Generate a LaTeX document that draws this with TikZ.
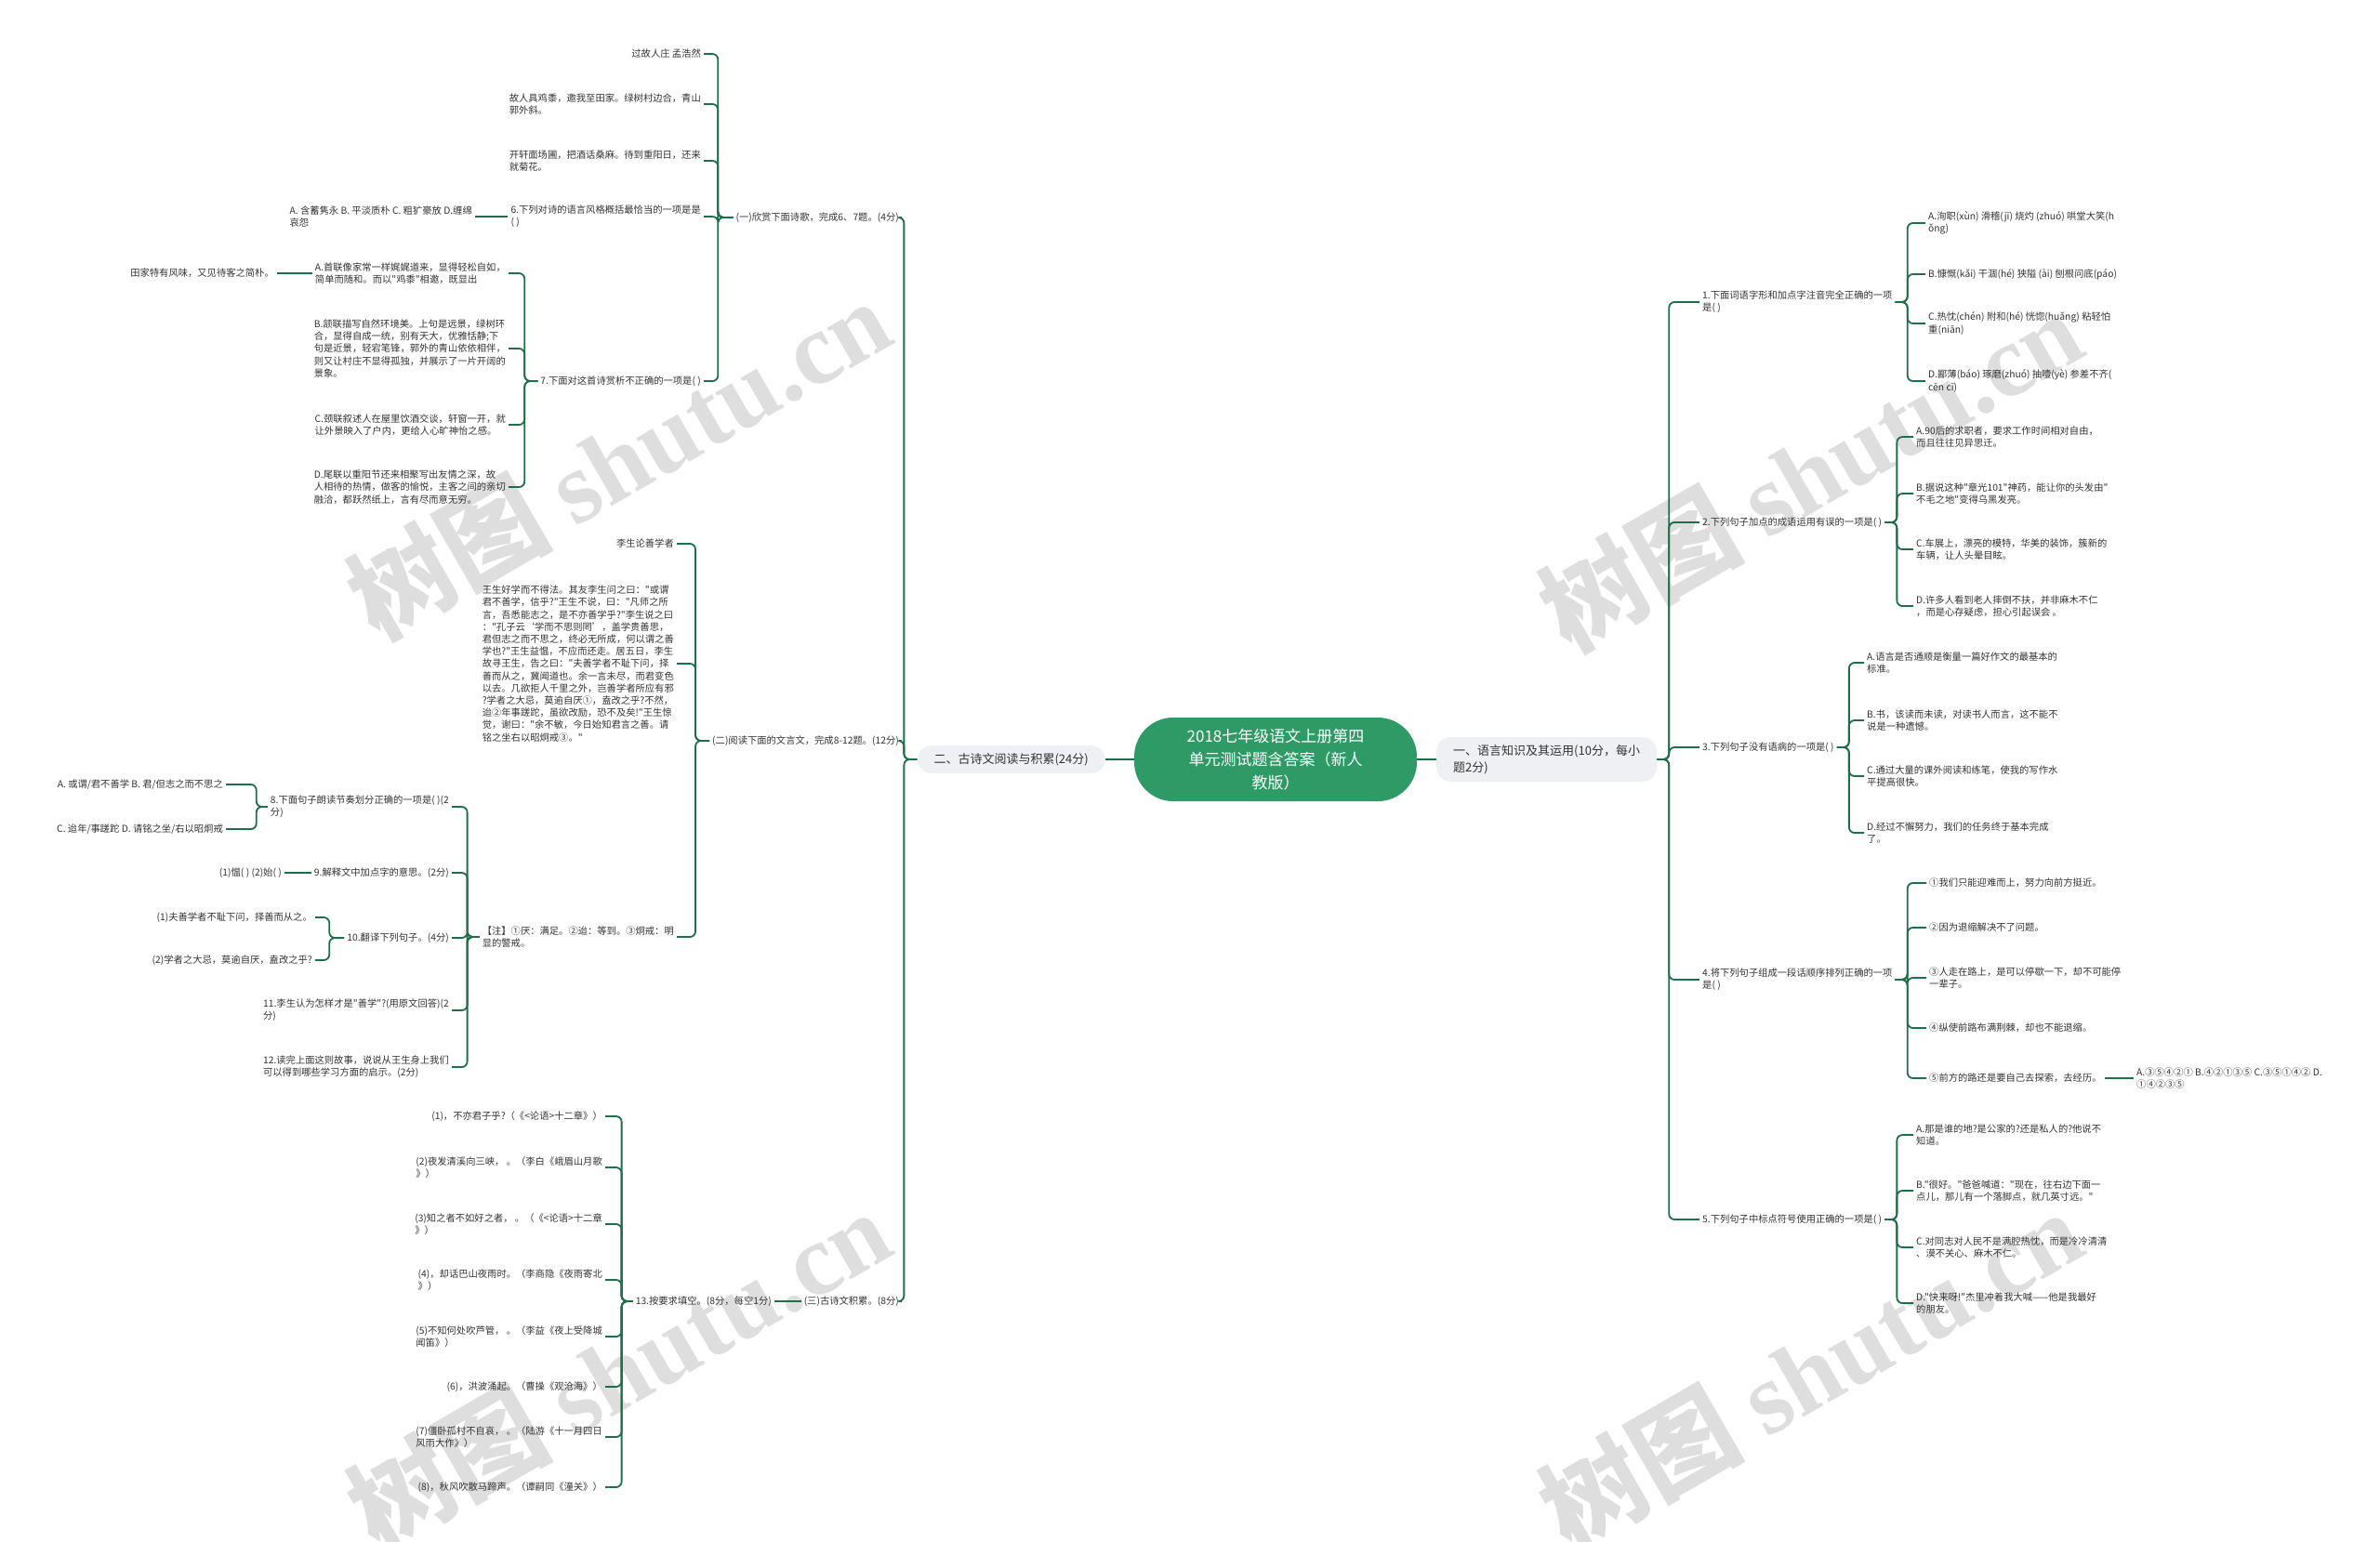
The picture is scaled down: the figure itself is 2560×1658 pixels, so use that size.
\documentclass[tikz,border=0pt]{standalone}
\usepackage{fontspec}
\setmainfont{Noto Sans CJK SC}[Ligatures=TeXOff]
\newfontfamily\wmlatin{Liberation Serif}
\usepackage{xcolor}
\definecolor{linkgreen}{HTML}{1E6E4A}
\definecolor{rootgreen}{HTML}{2E9A65}
\definecolor{secgray}{HTML}{EEF0F3}
\definecolor{inkgray}{HTML}{333333}

\begin{document}
\begin{tikzpicture}[x=1pt, y=-1pt,
  root/.style={fill=rootgreen, text=white, rounded corners=42pt, minimum width=304pt, minimum height=90pt, align=center, inner sep=0pt, font=\fontsize{17}{25}\selectfont},
  sec/.style={fill=secgray, text=inkgray, rounded corners=15pt, inner xsep=18pt, inner ysep=8pt, align=left, font=\fontsize{13}{18}\selectfont},
  leaf/.style={text=inkgray, align=left, inner xsep=3pt, inner ysep=1pt, font=\fontsize{10.3}{13.2}\selectfont},
  rleaf/.style={leaf, anchor=west},
  lleaf/.style={leaf, anchor=east},
  wm/.style={text=black!13, rotate=30, font=\fontsize{110}{110}\selectfont\bfseries},
  edge/.style={draw=linkgreen, line width=1.8pt, rounded corners=6pt}
]
\useasboundingbox (0,0) rectangle (2560,1658);
\fill[white] (0,0) rectangle (2560,1658);

\node[wm] (wm1) at (665,493) {树图 {\wmlatin\bfseries shutu.cn}};
\node[wm] (wm2) at (1947,506) {树图 {\wmlatin\bfseries shutu.cn}};
\node[wm] (wm3) at (665,1473) {树图 {\wmlatin\bfseries shutu.cn}};
\node[wm] (wm4) at (1947,1473) {树图 {\wmlatin\bfseries shutu.cn}};

\node[root] (root) at (1372,817) {2018七年级语文上册第四\\单元测试题含答案（新人\\教版）};
\node[sec, anchor=west] (sec1) at (1545,817) {一、语言知识及其运用(10分，每小\\题2分)};
\node[sec, anchor=east] (sec2) at (1189,817) {二、古诗文阅读与积累(24分)};

\node[rleaf] (q1) at (1828,325) {1.下面词语字形和加点字注音完全正确的一项\\是( )};
\node[rleaf] (a1) at (2071,240) {A.洵职(xùn) 滑稽(jī) 烧灼 (zhuó) 哄堂大笑(h\\ǒng)};
\node[rleaf] (b1) at (2071,295) {B.慷慨(kǎi) 干涸(hé) 狭隘 (ài) 刨根问底(páo)};
\node[rleaf] (c1) at (2071,348) {C.热忱(chén) 附和(hé) 恍惚(huǎng) 粘轻怕\\重(niān)};
\node[rleaf] (d1) at (2071,410) {D.鄙薄(báo) 琢磨(zhuó) 抽噎(yè) 参差不齐(\\cēn cī)};

\node[rleaf] (q2) at (1828,562) {2.下列句子加点的成语运用有误的一项是( )};
\node[rleaf] (a2) at (2058,470) {A.90后的求职者，要求工作时间相对自由，\\而且往往见异思迁。};
\node[rleaf] (b2) at (2058,531) {B.据说这种"章光101"神药，能让你的头发由"\\不毛之地"变得乌黑发亮。};
\node[rleaf] (c2) at (2058,591) {C.车展上，漂亮的模特，华美的装饰，簇新的\\车辆，让人头晕目眩。};
\node[rleaf] (d2) at (2058,652) {D.许多人看到老人摔倒不扶，并非麻木不仁\\，而是心存疑虑，担心引起误会 。};

\node[rleaf] (q3) at (1828,804) {3.下列句子没有语病的一项是( )};
\node[rleaf] (a3) at (2005,713) {A.语言是否通顺是衡量一篇好作文的最基本的\\标准。};
\node[rleaf] (b3) at (2005,775) {B.书，该读而未读，对读书人而言，这不能不\\说是一种遗憾。};
\node[rleaf] (c3) at (2005,835) {C.通过大量的课外阅读和练笔，使我的写作水\\平提高很快。};
\node[rleaf] (d3) at (2005,896) {D.经过不懈努力，我们的任务终于基本完成\\了。};

\node[rleaf] (q4) at (1828,1054) {4.将下列句子组成一段话顺序排列正确的一项\\是( )};
\node[rleaf] (o1) at (2072,950) {①我们只能迎难而上，努力向前方挺近。};
\node[rleaf] (o2) at (2072,998) {②因为退缩解决不了问题。};
\node[rleaf] (o3) at (2072,1052) {③人走在路上，是可以停歇一下，却不可能停\\一辈子。};
\node[rleaf] (o4) at (2072,1106) {④纵使前路布满荆棘，却也不能退缩。};
\node[rleaf] (o5) at (2072,1160) {⑤前方的路还是要自己去探索，去经历。};
\node[rleaf] (ans4) at (2295,1160) {A.③⑤④②① B.④②①③⑤ C.③⑤①④② D.\\①④②③⑤};

\node[rleaf] (q5) at (1828,1312) {5.下列句子中标点符号使用正确的一项是( )};
\node[rleaf] (a5) at (2058,1221) {A.那是谁的地?是公家的?还是私人的?他说不\\知道。};
\node[rleaf] (b5) at (2058,1281) {B."很好。"爸爸喊道："现在，往右边下面一\\点儿，那儿有一个落脚点，就几英寸远。"};
\node[rleaf] (c5) at (2058,1342) {C.对同志对人民不是满腔热忱，而是冷冷清清\\、漠不关心、麻木不仁。};
\node[rleaf] (d5) at (2058,1402) {D."快来呀!"杰里冲着我大喊——他是我最好\\的朋友。};

\node[lleaf] (g1) at (970,234) {(一)欣赏下面诗歌，完成6、7题。(4分)};
\node[lleaf] (p0) at (757,58) {过故人庄 孟浩然};
\node[lleaf] (p1) at (757,112) {故人具鸡黍，邀我至田家。绿树村边合，青山\\郭外斜。};
\node[lleaf] (p2) at (757,173) {开轩面场圃，把酒话桑麻。待到重阳日，还来\\就菊花。};
\node[lleaf] (q6) at (757,233) {6.下列对诗的语言风格概括最恰当的一项是是\\( )};
\node[lleaf] (q6a) at (511,233) {A. 含蓄隽永 B. 平淡质朴 C. 粗犷豪放 D.缠绵\\哀怨};
\node[lleaf] (q7) at (757,410) {7.下面对这首诗赏析不正确的一项是( )};
\node[lleaf] (a7) at (547,294) {A.首联像家常一样娓娓道来，显得轻松自如，\\简单而随和。而以"鸡黍"相邀，既显出};
\node[lleaf] (a7x) at (298,294) {田家特有风味，又见待客之简朴。};
\node[lleaf] (b7) at (547,375) {B.颔联描写自然环境美。上句是远景，绿树环\\合，显得自成一统，别有天大，优雅恬静;下\\句是近景，轻宕笔锋，郭外的青山依依相伴，\\则又让村庄不显得孤独，并展示了一片开阔的\\景象。};
\node[lleaf] (c7) at (547,457) {C.颈联叙述人在屋里饮酒交谈，轩窗一开，就\\让外景映入了户内，更给人心旷神怡之感。};
\node[lleaf] (d7) at (547,524) {D.尾联以重阳节还来相聚写出友情之深，故\\人相待的热情，做客的愉悦，主客之间的亲切\\融洽，都跃然纸上，言有尽而意无穷。};

\node[lleaf] (g2) at (970,797) {(二)阅读下面的文言文，完成8-12题。(12分)};
\node[lleaf] (li) at (728,585) {李生论善学者};
\node[lleaf] (story) at (728,714) {王生好学而不得法。其友李生问之曰："或谓\\君不善学，信乎?"王生不说，曰："凡师之所\\言，吾悉能志之，是不亦善学乎?"李生说之曰\\："孔子云‘学而不思则罔’，盖学贵善思，\\君但志之而不思之，终必无所成，何以谓之善\\学也?"王生益愠，不应而还走。居五日，李生\\故寻王生，告之曰："夫善学者不耻下问，择\\善而从之，冀闻道也。余一言未尽，而君变色\\以去。几欲拒人千里之外，岂善学者所应有邪\\?学者之大忌，莫逾自厌①，盍改之乎?不然，\\迨②年事蹉跎，虽欲改励，恐不及矣!"王生惊\\觉，谢曰："余不敏，今日始知君言之善。请\\铭之坐右以昭炯戒③。"};
\node[lleaf] (note) at (728,1008) {【注】①厌：满足。②迨：等到。③炯戒：明\\显的警戒。};
\node[lleaf] (q8) at (486,868) {8.下面句子朗读节奏划分正确的一项是( )(2\\分)};
\node[lleaf] (q8a) at (243,844) {A. 或谓/君不善学 B. 君/但志之而不思之};
\node[lleaf] (q8b) at (243,892) {C. 迨年/事蹉跎 D. 请铭之坐/右以昭炯戒};
\node[lleaf] (q9) at (486,939) {9.解释文中加点字的意思。(2分)};
\node[lleaf] (q9a) at (306,939) {(1)愠( ) (2)始( )};
\node[lleaf] (q10) at (486,1009) {10.翻译下列句子。(4分)};
\node[lleaf] (q10a) at (339,987) {(1)夫善学者不耻下问，择善而从之。};
\node[lleaf] (q10b) at (339,1033) {(2)学者之大忌，莫逾自厌，盍改之乎?};
\node[lleaf] (q11) at (486,1087) {11.李生认为怎样才是"善学"?(用原文回答)(2\\分)};
\node[lleaf] (q12) at (486,1148) {12.读完上面这则故事，说说从王生身上我们\\可以得到哪些学习方面的启示。(2分)};

\node[lleaf] (g3) at (970,1400) {(三)古诗文积累。(8分)};
\node[lleaf] (q13) at (833,1400) {13.按要求填空。(8分，每空1分)};
\node[lleaf] (f1) at (651,1201) {(1)，不亦君子乎?（《<论语>十二章》）};
\node[lleaf] (f2) at (651,1256) {(2)夜发清溪向三峡，\ 。（李白《峨眉山月歌\\》）};
\node[lleaf] (f3) at (651,1317) {(3)知之者不如好之者，\ 。（《<论语>十二章\\》）};
\node[lleaf] (f4) at (651,1377) {(4)，却话巴山夜雨时。（李商隐《夜雨寄北\\》）};
\node[lleaf] (f5) at (651,1438) {(5)不知何处吹芦管，\ 。（李益《夜上受降城\\闻笛》）};
\node[lleaf] (f6) at (651,1492) {(6)，洪波涌起。（曹操《观沧海》）};
\node[lleaf] (f7) at (651,1546) {(7)僵卧孤村不自哀，\ 。（陆游《十一月四日\\风雨大作》）};
\node[lleaf] (f8) at (651,1600) {(8)，秋风吹散马蹄声。（谭嗣同《潼关》）};

\draw[edge] (root.east) -- (sec1.west);
\draw[edge] (root.west) -- (sec2.east);
\foreach \n in {q1,q2,q3,q4,q5}
  \draw[edge] (sec1.east) -- ++(13,0) |- (\n.west);
\foreach \n in {a1,b1,c1,d1}
  \draw[edge] (q1.east) -- ++(13,0) |- (\n.west);
\foreach \n in {a2,b2,c2,d2}
  \draw[edge] (q2.east) -- ++(13,0) |- (\n.west);
\foreach \n in {a3,b3,c3,d3}
  \draw[edge] (q3.east) -- ++(13,0) |- (\n.west);
\foreach \n in {o1,o2,o3,o4,o5}
  \draw[edge] (q4.east) -- ++(13,0) |- (\n.west);
\draw[edge] (o5.east) -- (ans4.west);
\foreach \n in {a5,b5,c5,d5}
  \draw[edge] (q5.east) -- ++(13,0) |- (\n.west);

\foreach \n in {g1,g2,g3}
  \draw[edge] (sec2.west) -- ++(-14,0) |- (\n.east);
\foreach \n in {p0,p1,p2,q6,q7}
  \draw[edge] (g1.west) -- ++(-16,0) |- (\n.east);
\draw[edge] (q6.west) -- (q6a.east);
\foreach \n in {a7,b7,c7,d7}
  \draw[edge] (q7.west) -- ++(-14,0) |- (\n.east);
\draw[edge] (a7.west) -- (a7x.east);
\foreach \n in {li,story,note}
  \draw[edge] (g2.west) -- ++(-15,0) |- (\n.east);
\foreach \n in {q8,q9,q10,q11,q12}
  \draw[edge] (note.west) -- ++(-13,0) |- (\n.east);
\foreach \n in {q8a,q8b}
  \draw[edge] (q8.west) -- ++(-12,0) |- (\n.east);
\draw[edge] (q9.west) -- (q9a.east);
\foreach \n in {q10a,q10b}
  \draw[edge] (q10.west) -- ++(-16,0) |- (\n.east);
\draw[edge] (g3.west) -- (q13.east);
\foreach \n in {f1,f2,f3,f4,f5,f6,f7,f8}
  \draw[edge] (q13.west) -- ++(-12,0) |- (\n.east);
\end{tikzpicture}
\end{document}
